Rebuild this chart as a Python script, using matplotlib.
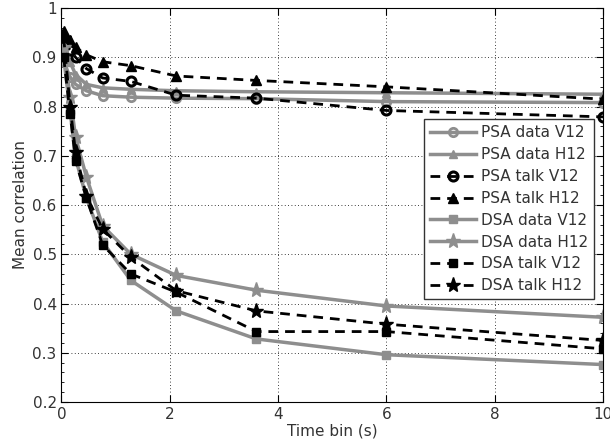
import matplotlib
matplotlib.use("Agg")
import matplotlib.pyplot as plt
from matplotlib.ticker import AutoMinorLocator

# time bins (s)
time_bins = [0.04, 0.16, 0.26, 0.46, 0.76, 1.28, 2.12, 3.6, 6.0, 10.0]

psa_data_v12 = [0.89, 0.86, 0.845, 0.832, 0.822, 0.819, 0.817, 0.816, 0.810, 0.808]
psa_data_h12 = [0.92, 0.89, 0.865, 0.845, 0.838, 0.835, 0.832, 0.830, 0.828, 0.825]
psa_talk_v12 = [0.93, 0.915, 0.90, 0.877, 0.858, 0.851, 0.823, 0.817, 0.792, 0.779]
psa_talk_h12 = [0.953, 0.935, 0.92, 0.905, 0.891, 0.883, 0.862, 0.853, 0.840, 0.815]
dsa_data_v12 = [0.90, 0.79, 0.695, 0.615, 0.525, 0.447, 0.385, 0.328, 0.296, 0.276]
dsa_data_h12 = [0.92, 0.82, 0.738, 0.657, 0.558, 0.50, 0.457, 0.427, 0.395, 0.372]
dsa_talk_v12 = [0.90, 0.785, 0.69, 0.614, 0.519, 0.46, 0.423, 0.343, 0.343, 0.308]
dsa_talk_h12 = [0.94, 0.80, 0.707, 0.619, 0.551, 0.494, 0.426, 0.385, 0.358, 0.325]

GRAY = "#8e8e8e"

fig = plt.figure(figsize=(6.1, 4.47), dpi=100)
ax = fig.add_axes([0.1008, 0.1007, 0.8877, 0.8813])

solid = dict(color=GRAY, linewidth=2.5, markersize=6)
dashed = dict(color="black", linewidth=2, linestyle=(0, (3.5, 2.5)), markersize=6.5)

ax.plot(time_bins, psa_data_v12, marker="o", markerfacecolor="none",
        markeredgewidth=2, label="PSA data V12", **solid)
ax.plot(time_bins, psa_data_h12, marker="^", label="PSA data H12", **solid)
ax.plot(time_bins, psa_talk_v12, marker="o", markerfacecolor="none",
        markeredgewidth=2.2, label="PSA talk V12", **dashed)
ax.plot(time_bins, psa_talk_h12, marker="^", label="PSA talk H12", **dashed)
ax.plot(time_bins, dsa_data_v12, marker="s", markersize=5.5, label="DSA data V12",
        color=GRAY, linewidth=2.5)
ax.plot(time_bins, dsa_data_h12, marker="*", label="DSA data H12",
        color=GRAY, linewidth=2.5, markersize=11)
ax.plot(time_bins, dsa_talk_v12, marker="s", markersize=6, label="DSA talk V12",
        color="black", linewidth=2, linestyle=(0, (3.5, 2.5)))
ax.plot(time_bins, dsa_talk_h12, marker="*", label="DSA talk H12",
        color="black", linewidth=2, linestyle=(0, (3.5, 2.5)), markersize=11)

ax.set_xlim(0, 10)
ax.set_ylim(0.2, 1)
ax.set_xticks([0, 2, 4, 6, 8, 10])
ax.set_yticks([0.2, 0.3, 0.4, 0.5, 0.6, 0.7, 0.8, 0.9, 1.0])
ax.set_yticklabels(["0.2", "0.3", "0.4", "0.5", "0.6", "0.7", "0.8", "0.9", "1"])
ax.yaxis.set_minor_locator(AutoMinorLocator(5))
ax.tick_params(which="both", direction="in", top=True, right=True,
               labelsize=11, labelcolor="#333333")
ax.tick_params(which="major", length=5)
ax.tick_params(which="minor", length=2.5)
ax.grid(True, which="major", linestyle=(0, (1, 3)), color="black", linewidth=0.6)

ax.set_xlabel("Time bin (s)", fontsize=11, color="#333333", labelpad=1)
ax.set_ylabel("Mean correlation", fontsize=11, color="#333333", labelpad=3)

leg = ax.legend(loc="upper right", bbox_to_anchor=(0.983, 0.718), fontsize=11,
                fancybox=False, framealpha=1, edgecolor="#333333",
                handlelength=3, handletextpad=0.3, labelspacing=0.45,
                borderpad=0.4, borderaxespad=0)
for t in leg.get_texts():
    t.set_color("#333333")

fig.savefig("out.png", dpi=100)
